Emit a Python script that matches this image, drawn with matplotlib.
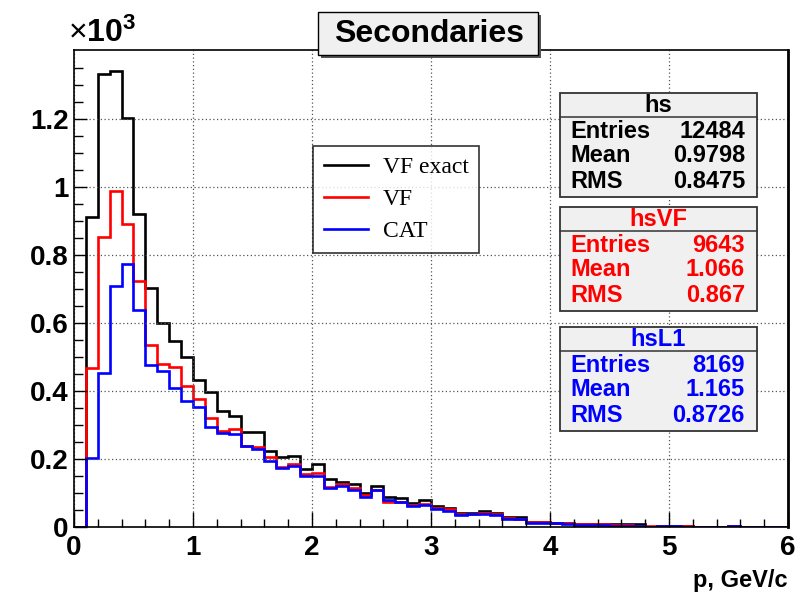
import matplotlib
matplotlib.use("Agg")
import matplotlib.pyplot as plt
import matplotlib.patches as patches
import numpy as np

# momentum bins, 0..6 GeV/c in steps of 0.1 (counts in units of 10^3)
edges = np.round(np.arange(0, 6.01, 0.1), 2)

vf_exact = [0.0, 0.913, 1.332, 1.342, 1.204, 0.922, 0.702, 0.601, 0.547, 0.501,
            0.432, 0.396, 0.342, 0.327, 0.278, 0.278, 0.224, 0.207, 0.208, 0.170,
            0.184, 0.140, 0.131, 0.126, 0.101, 0.122, 0.089, 0.086, 0.070, 0.079,
            0.062, 0.055, 0.040, 0.040, 0.048, 0.040, 0.028, 0.028, 0.016, 0.016,
            0.013, 0.013, 0.009, 0.009, 0.008, 0.008, 0.008, 0.008, 0.001, 0.003,
            0.002, 0.002, 0.001, 0.001, 0.001, 0.003, 0.001, 0.0, 0.0, 0.0]
vf = [0.0, 0.467, 0.854, 0.989, 0.891, 0.725, 0.535, 0.479, 0.472, 0.415,
      0.376, 0.322, 0.283, 0.288, 0.238, 0.234, 0.205, 0.177, 0.186, 0.155,
      0.158, 0.119, 0.127, 0.114, 0.094, 0.110, 0.074, 0.075, 0.066, 0.069,
      0.056, 0.053, 0.038, 0.039, 0.042, 0.037, 0.026, 0.024, 0.016, 0.015,
      0.012, 0.012, 0.010, 0.009, 0.008, 0.006, 0.005, 0.004, 0.002, 0.002,
      0.001, 0.003, 0.001, 0.001, 0.001, 0.002, 0.001, 0.0, 0.0, 0.0]
cat = [0.0, 0.202, 0.454, 0.709, 0.773, 0.638, 0.476, 0.460, 0.408, 0.371,
       0.354, 0.293, 0.276, 0.273, 0.238, 0.228, 0.194, 0.173, 0.179, 0.150,
       0.151, 0.114, 0.121, 0.108, 0.089, 0.109, 0.078, 0.074, 0.061, 0.066,
       0.052, 0.048, 0.035, 0.037, 0.039, 0.034, 0.023, 0.025, 0.013, 0.012,
       0.011, 0.010, 0.007, 0.007, 0.005, 0.004, 0.004, 0.004, 0.001, 0.003,
       0.003, 0.001, 0.001, 0.001, 0.001, 0.003, 0.001, 0.0, 0.0, 0.0]

labels = ["VF exact", "VF", "CAT"]
colors = ["black", "red", "blue"]

stat_names = ["hs", "hsVF", "hsL1"]
stat_entries = ["12484", "9643", "8169"]
stat_mean = ["0.9798", "1.066", "1.165"]
stat_rms = ["0.8475", "0.867", "0.8726"]

W, H = 812, 603
fig = plt.figure(figsize=(W / 100, H / 100), dpi=100)
ax = fig.add_axes([74 / W, 1 - 527 / H, (788 - 74) / W, (527 - 50) / H])

def fx(x):
    return x / W

def fy(y):
    return 1 - y / H

for vals, c, lab in zip([vf_exact, vf, cat], colors, labels):
    ax.stairs(vals, edges, color=c, lw=1.9, baseline=0, label=lab)

ax.set_xlim(0, 6)
ax.set_ylim(0, 1.403)
ax.set_xticks(np.arange(0, 7, 1))
ax.set_xticks(np.arange(0, 6.01, 0.2), minor=True)
ax.set_yticks(np.arange(0, 1.3, 0.2))
ax.set_yticks(np.arange(0, 1.4, 0.05), minor=True)
ax.set_yticklabels(["0", "0.2", "0.4", "0.6", "0.8", "1", "1.2"])
ax.set_xticklabels([str(i) for i in range(7)])
for lab in ax.get_xticklabels() + ax.get_yticklabels():
    lab.set_fontfamily("Liberation Sans")
    lab.set_fontweight("bold")
    lab.set_fontsize(20)
ax.tick_params(axis="both", which="both", direction="in", right=False, top=False)
ax.tick_params(axis="x", which="major", length=11, width=1, pad=6)
ax.tick_params(axis="x", which="minor", length=6, width=1)
ax.tick_params(axis="y", which="major", length=9, width=1, pad=4)
ax.tick_params(axis="y", which="minor", length=6.5, width=1)
ax.grid(True, which="major", linestyle=(0, (1, 2)), color="#555555", lw=0.9)
for s in ax.spines.values():
    s.set_linewidth(1.2)
ax.spines["right"].set_linewidth(2)

fig.text(fx(788), fy(580), "p, GeV/c", ha="right", va="center",
         fontfamily="Liberation Sans", fontweight="bold", fontsize=17)

plt.rcParams["mathtext.fontset"] = "custom"
plt.rcParams["mathtext.rm"] = "Liberation Sans"
plt.rcParams["mathtext.bf"] = "Liberation Sans:bold"
fig.text(fx(68), fy(33), r"$\times\mathbf{10^3}$", ha="left", va="center", fontsize=23)

# title box with shadow
fig.patches.append(patches.Rectangle((fx(321), fy(58)), (538 - 318) / W, (55 - 12) / H,
                                     transform=fig.transFigure, fc="#555555", ec="none"))
fig.patches.append(patches.Rectangle((fx(318), fy(55)), (538 - 318) / W, (55 - 12) / H,
                                     transform=fig.transFigure, fc="#f0f0f0", ec="black", lw=1))
fig.text(fx(429), fy(34), "Secondaries", ha="center", va="center",
         fontfamily="Liberation Sans", fontweight="bold", fontsize=23)

# legend
leg = ax.legend(loc="upper left", bbox_to_anchor=(fx(313), fy(146)), bbox_transform=fig.transFigure,
                prop={"family": "Liberation Serif", "size": 17}, frameon=True, fancybox=False,
                handlelength=1.9, handletextpad=0.6, labelspacing=0.45, borderpad=0.45,
                borderaxespad=0)
leg.get_frame().set_edgecolor("black")
leg.get_frame().set_linewidth(1.2)
for line in leg.get_lines():
    line.set_linewidth(1.9)

# stat boxes
tops = [93, 207, 327]
for i in range(3):
    t = tops[i]
    c = colors[i]
    fig.patches.append(patches.Rectangle((fx(560), fy(t + 104)), (757 - 560) / W, 104 / H,
                                         transform=fig.transFigure, fc="#f0f0f0", ec="#333333", lw=1.3))
    fig.add_artist(plt.Line2D([fx(560), fx(757)], [fy(t + 24), fy(t + 24)], color="#333333", lw=1.1))
    fig.text(fx(658), fy(t + 12), stat_names[i], ha="center", va="center", color=c,
             fontfamily="Liberation Sans", fontweight="bold", fontsize=17)
    rows = [("Entries", stat_entries[i]), ("Mean", stat_mean[i]), ("RMS", stat_rms[i])]
    for k, (nm, v) in enumerate(rows):
        yy = t + 38 + k * 25
        fig.text(fx(570), fy(yy), nm, ha="left", va="center", color=c,
                 fontfamily="Liberation Sans", fontweight="bold", fontsize=17)
        fig.text(fx(745), fy(yy), v, ha="right", va="center", color=c,
                 fontfamily="Liberation Sans", fontweight="bold", fontsize=17)

fig.savefig("out.png", dpi=100)
